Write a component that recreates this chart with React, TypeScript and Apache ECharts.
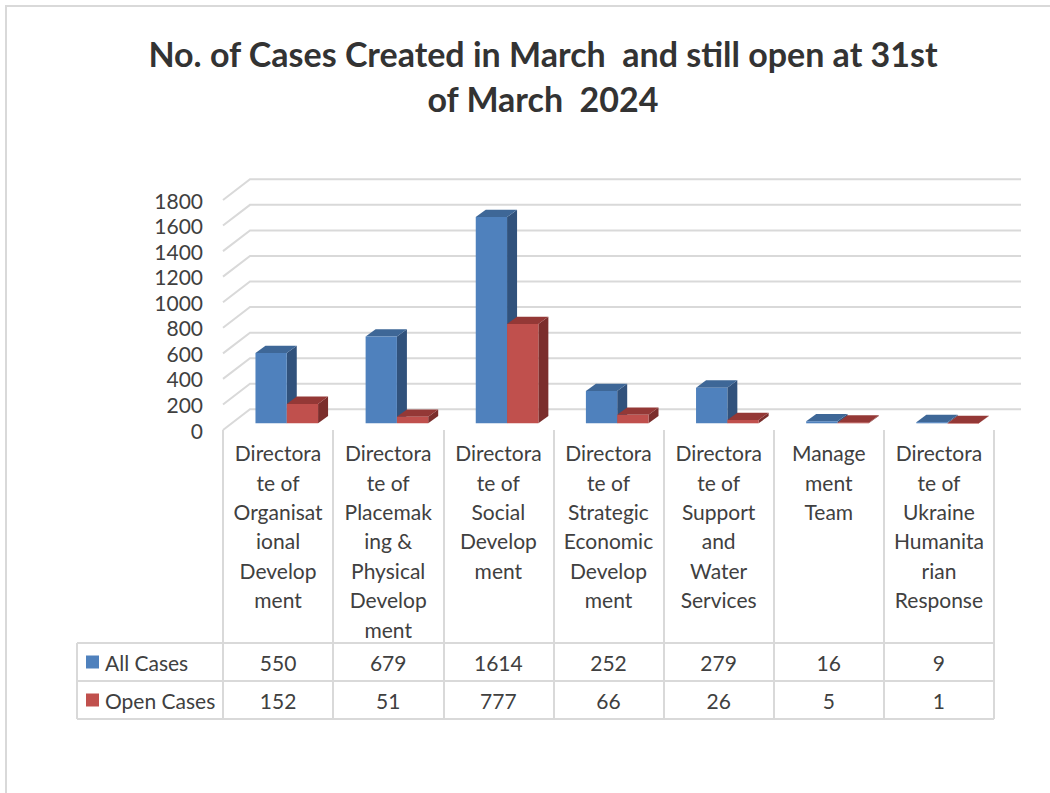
import React, { useEffect, useRef } from "react";
import * as echarts from "echarts";

const categories = [
  "Directorate of Organisational Development",
  "Directorate of Placemaking & Physical Development",
  "Directorate of Social Development",
  "Directorate of Strategic Economic Development",
  "Directorate of Support and Water Services",
  "Management Team",
  "Directorate of Ukraine Humanitarian Response",
];
const categoryLabels = [
  "Directora\nte of\nOrganisat\nional\nDevelop\nment",
  "Directora\nte of\nPlacemak\ning &\nPhysical\nDevelop\nment",
  "Directora\nte of\nSocial\nDevelop\nment",
  "Directora\nte of\nStrategic\nEconomic\nDevelop\nment",
  "Directora\nte of\nSupport\nand\nWater\nServices",
  "Manage\nment\nTeam",
  "Directora\nte of\nUkraine\nHumanita\nrian\nResponse",
];
const seriesNames = ["All Cases", "Open Cases"];
const allCases = [550, 679, 1614, 252, 279, 16, 9];
const openCases = [152, 51, 777, 66, 26, 5, 1];
const yTicks = [0, 200, 400, 600, 800, 1000, 1200, 1400, 1600, 1800];

const FONT = "Lato, 'Open Sans', sans-serif";
const TXT = "#404040";
const GRID_C = "#D9D9D9";
const COLORS = [
  { front: "#4F81BD", top: "#3E6797", side: "#31527C" },
  { front: "#C0504D", top: "#943836", side: "#7B2E2C" },
];

const WALL_DX = 27;
const WALL_DY = -20.7;
const BAR_W = 31.3;
const BAR_OFF_X = 8.7;
const BAR_OFF_Y = -6.7;
const BAR_DX = 10;
const BAR_DY = -7.3;

function makeBarRender(s: number) {
  return (params: any, api: any) => {
    const i = api.value(0);
    const v = api.value(1);
    const p0 = api.coord([i, 0]);
    const p1 = api.coord([i, v]);
    const cx = p0[0];
    const x1 = cx + BAR_OFF_X - BAR_W + s * BAR_W;
    const x2 = x1 + BAR_W;
    const yb = p0[1] + BAR_OFF_Y;
    const yt = p1[1] + BAR_OFF_Y;
    const c = COLORS[s];
    return {
      type: "group",
      children: [
        {
          type: "polygon",
          shape: {
            points: [
              [x2, yt],
              [x2 + BAR_DX, yt + BAR_DY],
              [x2 + BAR_DX, yb + BAR_DY],
              [x2, yb],
            ],
          },
          style: { fill: c.side },
        },
        {
          type: "polygon",
          shape: {
            points: [
              [x1, yt],
              [x2, yt],
              [x2 + BAR_DX, yt + BAR_DY],
              [x1 + BAR_DX, yt + BAR_DY],
            ],
          },
          style: { fill: c.top },
        },
        {
          type: "rect",
          shape: { x: x1, y: yt, width: BAR_W, height: Math.max(yb - yt, 0.5) },
          style: { fill: c.front },
        },
      ],
    };
  };
}

export default function App() {
  const ref = useRef<HTMLDivElement>(null);
  useEffect(() => {
    if (!ref.current) return;
    const chart = echarts.init(ref.current, null, { renderer: "svg" });
    const tableLeft = 77;
    const tableRight = 994;
    const rowTops = [643, 681, 719];
    const FS = 21;
    const option: any = {
      animation: false,
      backgroundColor: "#ffffff",
      grid: { left: 223, right: 56, top: 200, bottom: 363, containLabel: false },
      xAxis: {
        type: "category",
        data: categoryLabels,
        boundaryGap: true,
        axisLine: { show: false },
        axisTick: {
          show: true,
          interval: 0,
          length: 289,
          lineStyle: { color: GRID_C, width: 2 },
        },
        axisLabel: {
          interval: 0,
          margin: 8,
          fontSize: FS,
          lineHeight: 29.4,
          color: TXT,
          fontFamily: FONT,
          align: "center",
        },
        splitLine: { show: false },
      },
      yAxis: {
        type: "value",
        min: 0,
        max: 1800,
        interval: 200,
        axisLine: { show: false },
        axisTick: { show: false },
        splitLine: { show: false },
        axisLabel: {
          fontSize: FS,
          color: TXT,
          fontFamily: FONT,
          margin: 20,
          formatter: (v: number) => String(v),
        },
      },
      series: [
        {
          type: "custom",
          name: "grid",
          clip: false,
          silent: true,
          data: yTicks.map((t) => [0, t]),
          encode: { x: 0, y: 1 },
          renderItem: (params: any, api: any) => {
            const cs = params.coordSys;
            const y = api.coord([0, api.value(1)])[1];
            return {
              type: "polyline",
              shape: {
                points: [
                  [cs.x, y],
                  [cs.x + WALL_DX, y + WALL_DY],
                  [cs.x + cs.width + WALL_DX, y + WALL_DY],
                ],
              },
              style: { stroke: GRID_C, lineWidth: 2, fill: "none" },
            };
          },
        },
        {
          type: "custom",
          name: seriesNames[0],
          clip: false,
          data: allCases.map((v, i) => [i, v]),
          encode: { x: 0, y: 1 },
          renderItem: makeBarRender(0),
        },
        {
          type: "custom",
          name: seriesNames[1],
          clip: false,
          data: openCases.map((v, i) => [i, v]),
          encode: { x: 0, y: 1 },
          renderItem: makeBarRender(1),
        },
        {
          type: "custom",
          name: "table",
          clip: false,
          silent: true,
          data: allCases.map((v, i) => [i, 0, v, openCases[i]]),
          encode: { x: 0, y: 1 },
          renderItem: (params: any, api: any) => {
            const x = api.coord([api.value(0), 0])[0];
            return {
              type: "group",
              children: [
                {
                  type: "text",
                  style: {
                    x,
                    y: (rowTops[0] + rowTops[1]) / 2,
                    text: String(api.value(2)),
                    fill: TXT,
                    font: `${FS}px ${FONT}`,
                    textAlign: "center",
                    textVerticalAlign: "middle",
                  },
                },
                {
                  type: "text",
                  style: {
                    x,
                    y: (rowTops[1] + rowTops[2]) / 2,
                    text: String(api.value(3)),
                    fill: TXT,
                    font: `${FS}px ${FONT}`,
                    textAlign: "center",
                    textVerticalAlign: "middle",
                  },
                },
              ],
            };
          },
        },
      ],
      graphic: [
        {
          type: "rect",
          z: -10,
          silent: true,
          shape: { x: 6, y: 6, width: 1100, height: 850 },
          style: { fill: "none", stroke: GRID_C, lineWidth: 2 },
        },
        {
          type: "text",
          style: {
            x: 543,
            y: 31,
            text: "No. of Cases Created in March  and still open at 31st\nof March  2024",
            font: `bold 34px ${FONT}`,
            lineHeight: 45,
            fill: "#333333",
            textAlign: "center",
            textVerticalAlign: "top",
          },
        },
        ...rowTops.map((y) => ({
          type: "line",
          silent: true,
          shape: { x1: tableLeft, y1: y, x2: tableRight, y2: y },
          style: { stroke: GRID_C, lineWidth: 2 },
        })),
        {
          type: "line",
          silent: true,
          shape: { x1: tableLeft, y1: rowTops[0], x2: tableLeft, y2: rowTops[2] },
          style: { stroke: GRID_C, lineWidth: 2 },
        },
        ...seriesNames.map((name, k) => ({
          type: "group",
          children: [
            {
              type: "rect",
              shape: { x: 86, y: (rowTops[k] + rowTops[k + 1]) / 2 - 6.5, width: 13, height: 13 },
              style: { fill: COLORS[k].front },
            },
            {
              type: "text",
              style: {
                x: 105,
                y: (rowTops[k] + rowTops[k + 1]) / 2,
                text: name,
                fill: TXT,
                font: `${FS}px ${FONT}`,
                textAlign: "left",
                textVerticalAlign: "middle",
              },
            },
          ],
        })),
      ],
    };
    chart.setOption(option);
    return () => chart.dispose();
  }, []);
  return (
    <div
      ref={ref}
      style={{ position: "absolute", left: 0, top: 0, width: 1050, height: 793 }}
    />
  );
}
